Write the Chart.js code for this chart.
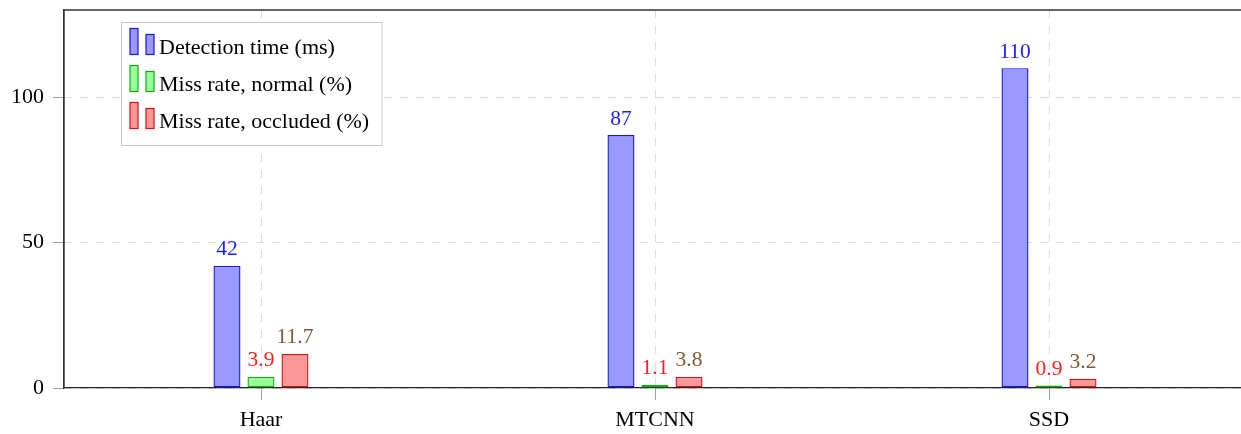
<!DOCTYPE html>
<html>
<head>
<meta charset="utf-8">
<script src="https://cdn.jsdelivr.net/npm/chart.js@4/dist/chart.umd.min.js"></script>
<style>
  html, body { margin: 0; padding: 0; background: #fff; overflow: hidden; }
  #wrap { width: 1241px; height: 434px; overflow: hidden; }
  canvas { display: block; }
</style>
</head>
<body>
<div id="wrap"><canvas id="c" width="1250" height="434"></canvas></div>
<script>
// Face detectors compared on speed and miss rate
const categories = ['Haar', 'MTCNN', 'SSD'];
const detectionTime = [42, 87, 110];
const missRateNormal = [3.9, 1.1, 0.9];
const missRateOccluded = [11.7, 3.8, 3.2];
const seriesNames = ['Detection time (ms)', 'Miss rate, normal (%)', 'Miss rate, occluded (%)'];
const yTickValues = [0, 50, 100];

const FONT = '"Liberation Serif", "Times New Roman", serif';
const fills = ['rgb(153,153,255)', 'rgb(153,255,153)', 'rgb(255,153,153)'];
const strokes = ['rgb(20,20,225)', 'rgb(20,170,20)', 'rgb(200,20,20)'];
const valueColors = ['rgb(30,30,255)', 'rgb(255,30,30)', 'rgb(128,90,55)'];

const series = [detectionTime, missRateNormal, missRateOccluded];

const datasets = series.map((values, i) => ({
  label: seriesNames[i],
  data: values,
  backgroundColor: fills[i],
  borderColor: strokes[i],
  borderWidth: 1.4,
  borderSkipped: false,
  categoryPercentage: 0.259,
  barPercentage: 0.794
}));

// value printed above every bar
const valueLabels = {
  id: 'valueLabels',
  afterDatasetsDraw(chart) {
    const ctx = chart.ctx;
    ctx.save();
    ctx.font = '21.5px ' + FONT;
    ctx.textAlign = 'center';
    ctx.textBaseline = 'alphabetic';
    chart.data.datasets.forEach((ds, i) => {
      const meta = chart.getDatasetMeta(i);
      ctx.fillStyle = valueColors[i];
      meta.data.forEach((bar, j) => {
        ctx.fillText(String(ds.data[j]), bar.x, bar.y - 10.5);
      });
    });
    ctx.restore();
  }
};

// closed frame around the plot area
const frame = {
  id: 'frame',
  afterDraw(chart) {
    const a = chart.chartArea;
    const ctx = chart.ctx;
    ctx.save();
    ctx.strokeStyle = '#333';
    ctx.lineWidth = 1.3;
    ctx.beginPath();
    ctx.moveTo(a.left, a.bottom);
    ctx.lineTo(a.left, a.top);
    ctx.lineTo(a.right, a.top);
    ctx.lineTo(a.right, a.bottom);
    ctx.stroke();
    ctx.restore();
  }
};

// legend box in the upper left of the plot
const boxLegend = {
  id: 'boxLegend',
  afterDraw(chart) {
    const ctx = chart.ctx;
    const x0 = 121.5, y0 = 22.5, w = 260.5, h = 123;
    ctx.save();
    ctx.fillStyle = '#fff';
    ctx.fillRect(x0, y0, w, h);
    ctx.strokeStyle = '#c8c8c8';
    ctx.lineWidth = 1;
    ctx.strokeRect(x0, y0, w, h);
    ctx.font = '22px ' + FONT;
    ctx.textAlign = 'left';
    ctx.textBaseline = 'alphabetic';
    chart.data.datasets.forEach((ds, i) => {
      const bottom = 54.5 + i * 37;
      ctx.fillStyle = ds.backgroundColor;
      ctx.strokeStyle = ds.borderColor;
      ctx.lineWidth = 1.2;
      ctx.fillRect(130, bottom - 26, 8, 26);
      ctx.strokeRect(130, bottom - 26, 8, 26);
      ctx.fillRect(146, bottom - 20, 8, 20);
      ctx.strokeRect(146, bottom - 20, 8, 20);
      ctx.fillStyle = '#000';
      ctx.fillText(ds.label, 159, bottom - 1);
    });
    ctx.restore();
  }
};

new Chart(document.getElementById('c'), {
  type: 'bar',
  data: { labels: categories, datasets },
  options: {
    responsive: false,
    animation: false,
    devicePixelRatio: 1,
    layout: { padding: { top: 10, right: 4, left: 0, bottom: 0 } },
    plugins: {
      legend: { display: false },
      tooltip: { enabled: false }
    },
    scales: {
      x: {
        offset: true,
        grid: {
          offset: false,
          color: '#dcdcdc',
          lineWidth: 1,
          tickLength: 12,
          tickColor: '#a0a0a0',
          tickBorderDash: []
        },
        border: { display: true, color: '#222', width: 1.3, dash: [8, 8] },
        ticks: {
          color: '#000',
          font: { family: FONT, size: 22 },
          padding: 7,
          maxRotation: 0
        },
        afterFit(scale) {
          scale.height = 46;
          scale.paddingLeft = 0;
          scale.paddingRight = 0;
        }
      },
      y: {
        min: 0,
        max: 130,
        ticks: {
          stepSize: 50,
          color: '#000',
          font: { family: FONT, size: 22 },
          padding: 9
        },
        afterBuildTicks(scale) {
          scale.ticks = yTickValues.map(v => ({ value: v }));
        },
        grid: {
          color: '#dcdcdc',
          lineWidth: 1,
          tickLength: 11,
          tickColor: '#a0a0a0',
          tickBorderDash: []
        },
        border: { display: true, color: '#333', width: 1.3, dash: [8, 8] },
        afterFit(scale) {
          scale.width = 64;
          scale.paddingTop = 0;
          scale.paddingBottom = 0;
        }
      }
    }
  },
  plugins: [valueLabels, frame, boxLegend]
});
</script>
</body>
</html>
